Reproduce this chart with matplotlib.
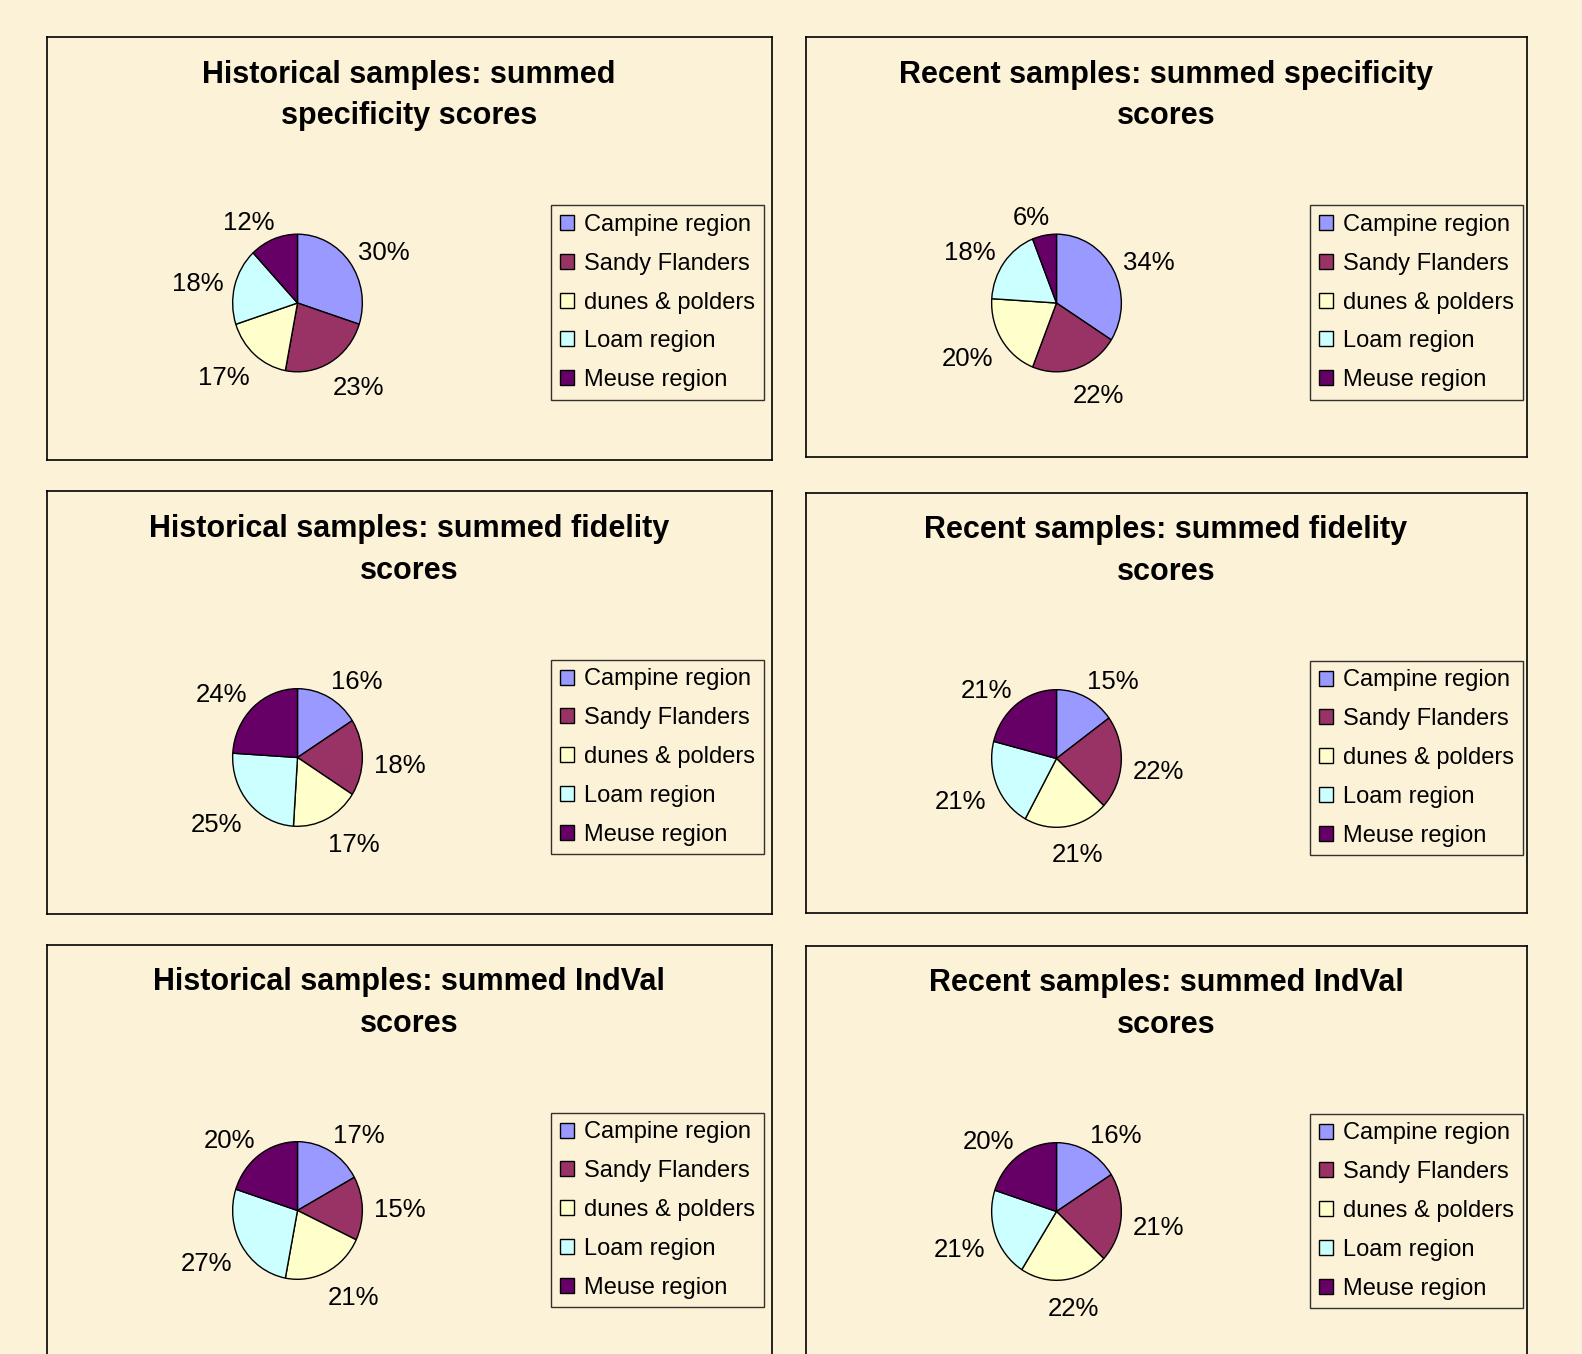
import matplotlib
matplotlib.use("Agg")
import numpy as np
import matplotlib.pyplot as plt

plt.rcParams["font.family"] = ["Liberation Sans", "DejaVu Sans"]

# Regions and their fill colours (classic Excel palette)
REGIONS = ["Campine region", "Sandy Flanders", "dunes & polders",
           "Loam region", "Meuse region"]
COLOURS = ["#9999FF", "#993366", "#FFFFCC", "#CCFFFF", "#660066"]

TITLES = [
    "Historical samples: summed\nspecificity scores",
    "Recent samples: summed specificity\nscores",
    "Historical samples: summed fidelity\nscores",
    "Recent samples: summed fidelity\nscores",
    "Historical samples: summed IndVal\nscores",
    "Recent samples: summed IndVal\nscores",
]

# Percent shares per region, same order as REGIONS
hist_specificity = [30, 23, 17, 18, 12]
recent_specificity = [34, 22, 20, 18, 6]
hist_fidelity = [16, 18, 17, 25, 24]
recent_fidelity = [15, 22, 21, 21, 21]
hist_indval = [17, 15, 21, 27, 20]
recent_indval = [16, 21, 22, 21, 20]

SERIES = [hist_specificity, recent_specificity, hist_fidelity,
          recent_fidelity, hist_indval, recent_indval]

W, H = 1582, 1354
BG = "#FCF2D8"

# Panel frames in pixels: (left, top, right, bottom)
PANELS = [
    (46.5, 37.0, 772.0, 460.0),
    (805.5, 37.0, 1526.5, 457.0),
    (46.5, 491.5, 772.0, 914.0),
    (805.5, 492.5, 1526.5, 913.0),
    (46.5, 944.5, 772.0, 1380.0),
    (805.5, 945.5, 1526.5, 1380.0),
]


def px_rect(x0, y0, x1, y1):
    return [x0 / W, 1 - y1 / H, (x1 - x0) / W, (y1 - y0) / H]


def nudge_labels(texts):
    """Excel-style outside labels: side labels pushed clear of the rim,
    labels under the pie dropped a little lower."""
    for t in texts:
        x, y = t.get_position()
        c, s = x / 1.3, y / 1.3
        dx = 0.28 * np.sign(c) * min(1.0, abs(c) / 0.35)
        dy = -0.04 if s > 0 else -0.12
        t.set_position((x + dx, y + dy))


def draw_panel(fig, box, title, values):
    x0, y0, x1, y1 = box
    frame = fig.add_axes(px_rect(x0, y0, x1, y1))
    frame.set_facecolor("none")
    frame.set_xticks([])
    frame.set_yticks([])
    for sp in frame.spines.values():
        sp.set_color("black")
        sp.set_linewidth(1.2)

    cx = (x0 + x1) / 2
    fig.text(cx / W, 1 - (y0 + 58.5) / H, title, ha="center", va="center",
             fontsize=22, fontweight="bold", linespacing=1.48)

    # pie: slightly taller than wide, as in the source chart
    px, py = x0 + 251, y0 + 266
    rx, ry = 65.5, 69.5
    ax = fig.add_axes(px_rect(px - rx, py - ry, px + rx, py + ry))
    wedges, _, pcts = ax.pie(
        values, colors=COLOURS, startangle=90, counterclock=False,
        autopct="%d%%", pctdistance=1.3, radius=1.0,
        wedgeprops=dict(edgecolor="black", linewidth=1.0),
        textprops=dict(fontsize=18.5, color="black"),
    )
    nudge_labels(pcts)
    ax.set_aspect("auto")
    ax.set_xlim(-1.01, 1.01)
    ax.set_ylim(-1.01, 1.01)
    ax.axis("off")

    lx, ly = x0 + 611, y0 + 265.5
    leg = fig.legend(
        wedges, REGIONS, loc="center",
        bbox_to_anchor=(lx / W, 1 - ly / H),
        fontsize=17, frameon=True, fancybox=False, shadow=False,
        handlelength=0.6, handleheight=0.6, handletextpad=0.4,
        labelspacing=0.71, borderpad=0.37, borderaxespad=0.0,
    )
    fr = leg.get_frame()
    fr.set_edgecolor("black")
    fr.set_linewidth(1.0)
    fr.set_facecolor("none")


def main():
    fig = plt.figure(figsize=(W / 100, H / 100), dpi=100, facecolor=BG)
    for box, title, values in zip(PANELS, TITLES, SERIES):
        draw_panel(fig, box, title, values)
    fig.savefig("out.png", dpi=100, facecolor=BG)


if __name__ == "__main__":
    main()
